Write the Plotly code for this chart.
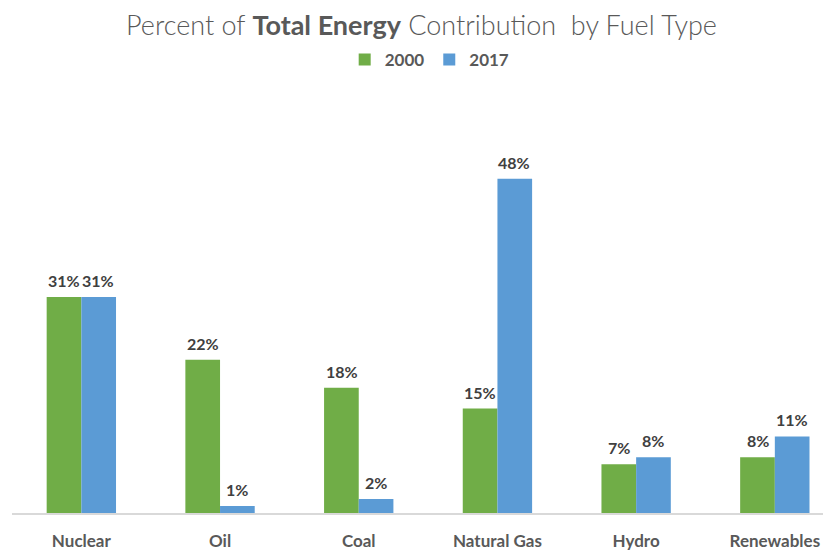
import plotly.graph_objects as go

# ─── data ────────────────────────────────────────────────────────────────
fuels = ["Nuclear", "Oil", "Coal", "Natural Gas", "Hydro", "Renewables"]
share_2000 = [31, 22, 18, 15, 7, 8]
share_2017 = [31, 1, 2, 48, 8, 11]

GREEN = "#70AD47"
BLUE = "#5B9BD5"
FONT = "Lato, 'Open Sans', sans-serif"

# the page has an 8px body margin, so the figure is 8px smaller each way
fig = go.Figure()
for name, vals, color in [("2000", share_2000, GREEN), ("2017", share_2017, BLUE)]:
    fig.add_trace(go.Bar(
        name=name,
        x=fuels,
        y=vals,
        marker=dict(color=color, line=dict(width=0)),
        hoverinfo="x+y+name",
    ))

# value labels above each bar (offset left/right for the two series)
for vals, shift in [(share_2000, -17), (share_2017, 17)]:
    for cat, v in zip(fuels, vals):
        fig.add_annotation(
            x=cat, y=v, xref="x", yref="y",
            text=f"{v}%", showarrow=False,
            xanchor="center", yanchor="bottom",
            xshift=shift, yshift=5,
            font=dict(family=FONT, size=16, color="#404040", weight="bold"),
        )

fig.update_layout(
    width=823, height=543,
    paper_bgcolor="white", plot_bgcolor="white",
    barmode="group", bargap=0.5, bargroupgap=0,
    margin=dict(l=4, r=0, t=92, b=38),
    title=dict(
        text="Percent of <b>Total Energy</b> Contribution  by Fuel Type",
        x=0.5, xanchor="center", xref="paper", y=0.968, yanchor="middle",
        font=dict(family=FONT, size=27, color="#595959", weight=300),
    ),
    legend=dict(
        orientation="h", x=0.51, xanchor="center", y=1.097, yanchor="middle",
        font=dict(family=FONT, size=17, color="#595959", weight="bold"),
        itemwidth=30,
    ),
    showlegend=True,
)

fig.update_xaxes(
    range=[-0.5, 5.405],
    showline=True, linecolor="#D9D9D9", linewidth=1.5,
    showgrid=False, ticks="",
    ticklabelstandoff=12,
    tickfont=dict(family=FONT, size=17, color="#595959", weight="bold"),
)
fig.update_yaxes(range=[0, 59.3], visible=False, showgrid=False)

fig.write_html("out.html")
